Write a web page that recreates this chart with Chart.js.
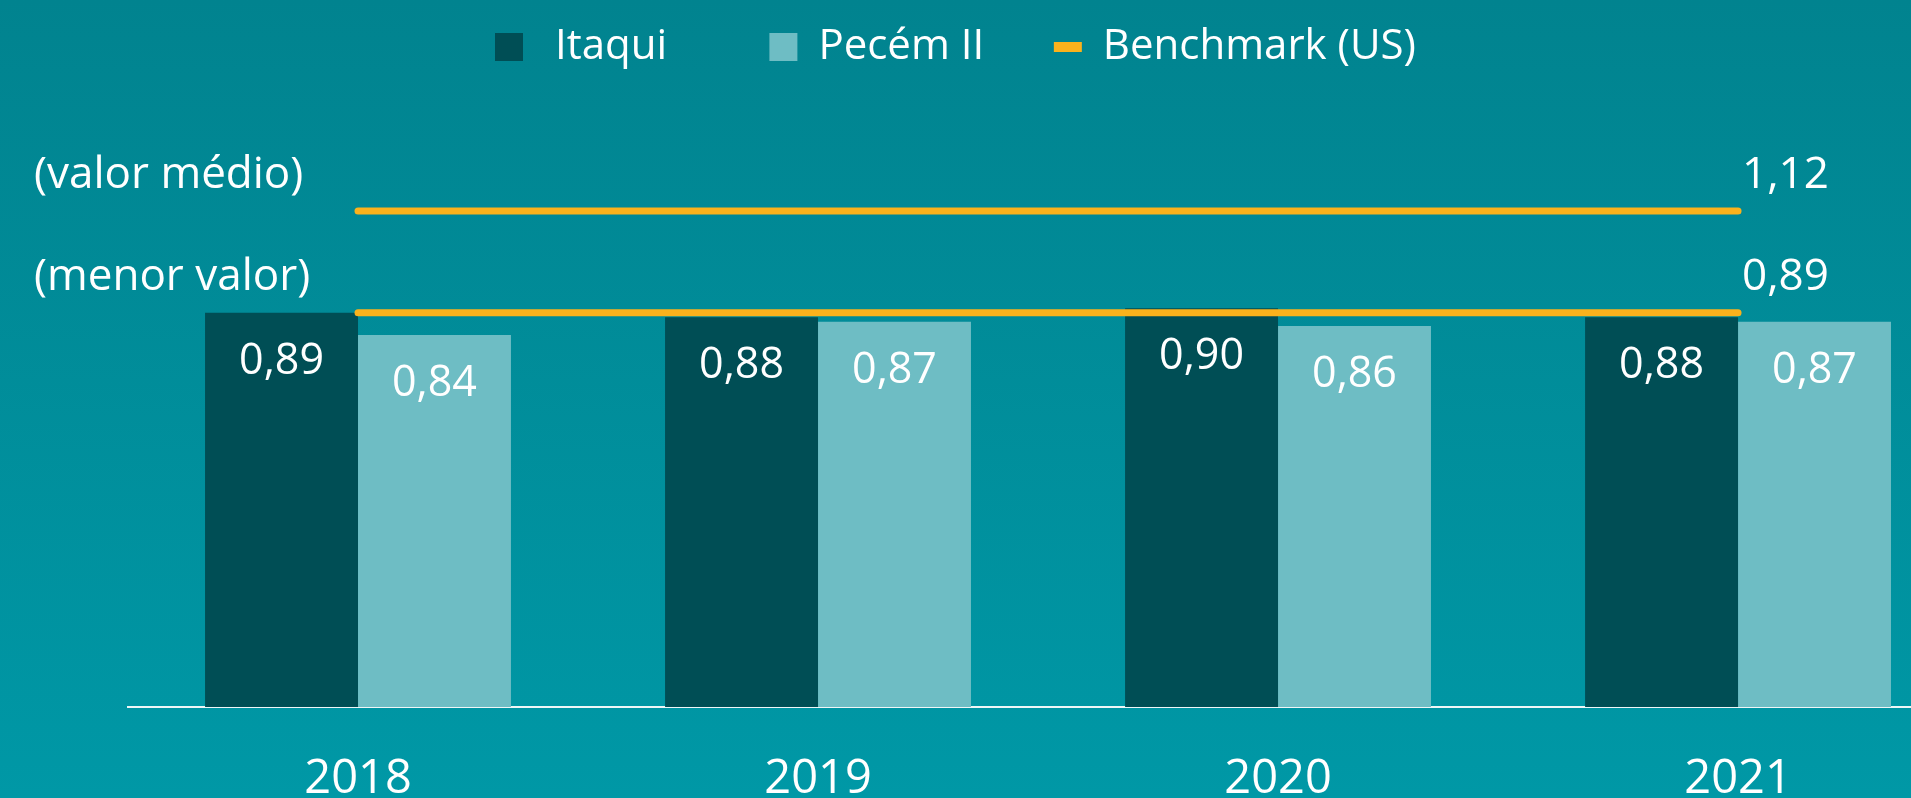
<!DOCTYPE html>
<html lang="pt">
<head>
<meta charset="utf-8">
<title>Itaqui x Pecém II</title>
<script src="https://cdn.jsdelivr.net/npm/chart.js@4.4.1/dist/chart.umd.min.js"></script>
<style>
  html, body { margin: 0; padding: 0; overflow: hidden; }
  body { background: linear-gradient(to bottom, #01838f, #0098a6); }
  .wrap { position: relative; width: 1911px; height: 798px; }
</style>
</head>
<body>
<div class="wrap"><canvas id="fatorChart"></canvas></div>
<script>
const anos = [2018, 2019, 2020, 2021];
const itaqui = [0.89, 0.88, 0.90, 0.88];
const pecem = [0.84, 0.87, 0.86, 0.87];
const benchmarkValores = [1.12, 0.89];
const benchmarkNomes = ['(valor médio)', '(menor valor)'];
// espaços extras só para afastar os itens da legenda
const legendaTextos = [' Itaqui       ', 'Pecém II    ', 'Benchmark (US)'];

const corItaqui = '#004e55';
const corPecem = '#6ebdc4';
const corBench = '#fbb21c';

const fmt = v => v.toFixed(2).replace('.', ',');
const pontos = serie => anos.map((a, i) => ({ x: a, y: serie[i] }));

Chart.defaults.font.family = "'Open Sans', sans-serif";
Chart.defaults.color = '#fff';

// rótulos dos valores e textos das linhas de benchmark
const rotulos = {
    id: 'rotulos',
    afterDatasetsDraw(chart) {
        const ctx = chart.ctx;
        ctx.save();
        ctx.fillStyle = '#fff';
        ctx.textBaseline = 'alphabetic';
        chart.data.datasets.forEach((ds, i) => {
            const meta = chart.getDatasetMeta(i);
            if (ds.type === 'line') {
                const pts = meta.data;
                const y = pts[0].y;
                ctx.font = "44px 'Open Sans'";
                ctx.textAlign = 'left';
                ctx.fillText(ds.nome, 34, y - 23);
                ctx.fillText(fmt(ds.valor), pts[pts.length - 1].x + 4, y - 23);
            } else {
                ctx.font = "43px 'Open Sans'";
                ctx.textAlign = 'center';
                meta.data.forEach((bar, j) => {
                    ctx.fillText(fmt(ds.data[j].y), bar.x, bar.y + 61);
                });
            }
        });
        ctx.restore();
    }
};

const linhasBench = benchmarkValores.map((v, i) => ({
    type: 'line',
    label: 'Benchmark (US)',
    nome: benchmarkNomes[i],
    valor: v,
    data: [{ x: anos[0], y: v }, { x: anos[anos.length - 1], y: v }],
    borderColor: corBench,
    backgroundColor: corBench,
    borderWidth: 7,
    borderCapStyle: 'round',
    pointRadius: 0,
    order: 0
}));

new Chart(document.getElementById('fatorChart'), {
    type: 'bar',
    data: {
        datasets: [
            ...linhasBench,
            {
                label: 'Itaqui',
                data: pontos(itaqui),
                backgroundColor: corItaqui,
                order: 1
            },
            {
                label: 'Pecém II',
                data: pontos(pecem),
                backgroundColor: corPecem,
                order: 1
            }
        ]
    },
    options: {
        responsive: true,
        maintainAspectRatio: false,
        animation: false,
        events: [],
        categoryPercentage: 0.665,
        barPercentage: 1,
        layout: { padding: 0 },
        scales: {
            x: {
                type: 'linear',
                position: 'bottom',
                offset: false,
                min: 2017.5,
                max: 2021.376,
                grid: { display: false, drawTicks: false },
                border: { display: true, color: '#eef6f7', width: 2 },
                ticks: {
                    stepSize: 1,
                    includeBounds: false,
                    autoSkip: false,
                    maxRotation: 0,
                    padding: 44,
                    color: '#fff',
                    font: { size: 47 },
                    callback: v => String(v)
                },
                afterBuildTicks: s => { s.ticks = s.ticks.filter(t => anos.includes(t.value)); },
                afterFit: s => { s.height = 91; }
            },
            y: {
                min: 0,
                max: 1.42,
                grid: { display: false, drawTicks: false },
                border: { display: false },
                ticks: { display: false },
                afterFit: s => { s.width = 128; }
            }
        },
        plugins: {
            tooltip: { enabled: false },
            legend: {
                position: 'top',
                labels: {
                    usePointStyle: true,
                    pointStyleWidth: 28,
                    boxHeight: 28,
                    padding: 26,
                    color: '#fff',
                    font: { size: 42 },
                    generateLabels: () => [
                        { text: legendaTextos[0], fillStyle: corItaqui, strokeStyle: corItaqui, lineWidth: 0, pointStyle: 'rect', fontColor: '#fff', datasetIndex: 2 },
                        { text: legendaTextos[1], fillStyle: corPecem, strokeStyle: corPecem, lineWidth: 0, pointStyle: 'rect', fontColor: '#fff', datasetIndex: 3 },
                        { text: legendaTextos[2], fillStyle: corBench, strokeStyle: corBench, lineWidth: 10, lineCap: 'butt', pointStyle: 'line', fontColor: '#fff', datasetIndex: 0 }
                    ]
                }
            }
        }
    },
    plugins: [rotulos]
});
</script>
</body>
</html>
